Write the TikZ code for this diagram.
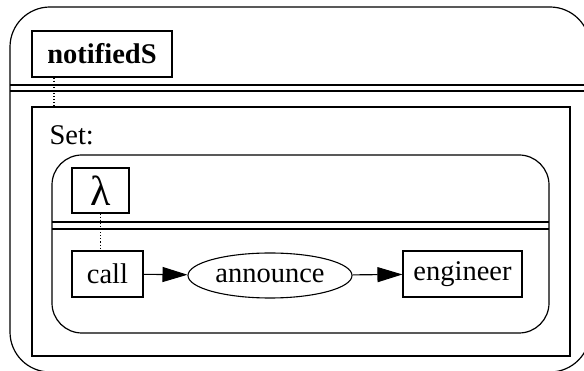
\documentclass[tikz,border=0pt]{standalone}
\usepackage{fontspec}
\setmainfont{Liberation Serif}
\usetikzlibrary{arrows.meta,shapes.geometric}

\tikzset{
  frame/.style={draw, line width=1.2pt},
  entity/.style={draw, line width=1.1pt, rectangle, inner sep=0pt, minimum height=46pt},
  relation/.style={draw, line width=1.1pt, ellipse, inner sep=0pt, minimum width=164pt, minimum height=45pt},
  tether/.style={dotted, line width=1.1pt},
  flow/.style={-{Triangle[length=25pt,width=15pt]}, line width=1.1pt}
}

\begin{document}
\begin{tikzpicture}[x=1pt, y=-1pt, font=\fontsize{28.5}{34}\selectfont]

\useasboundingbox (0,0) rectangle (584,371);
\clip (0,0) rectangle (584,371);

% Outer frame with its title bar
\draw[frame, rounded corners=40pt] (10,7) rectangle (590,372);
\draw[frame] (10,85) -- (590,85);
\draw[frame] (10,91) -- (590,91);
\node[entity, minimum width=140pt, font=\fontsize{28.5}{34}\selectfont\bfseries] (notif) at (102,54) {notifiedS};

% Set frame
\draw[frame] (32,107) rectangle (570,356);
\coordinate (settop) at (54,107);
\draw[tether] (notif.south -| settop) -- (settop);
\node[anchor=base west] (setlab) at (46,145) {Set:};

% Lambda frame
\draw[frame, rounded corners=30pt] (52,155) rectangle (549,333);
\draw[frame] (52,222) -- (549,222);
\draw[frame] (52,229) -- (549,229);
\node[entity, minimum width=57pt, minimum height=45pt, font=\fontsize{42}{46}\selectfont] (lam) at (100.5,190.5) {λ};

% Chain inside the lambda
\node[entity, minimum width=71pt] (call) at (107.5,274) {call};
\node[relation] (announce) at (270,275.5) {announce};
\node[entity, minimum width=119pt] (engineer) at (462.5,274) {engineer};

\draw[tether] (lam.south) -- (lam.south |- call.north);
\draw[flow] (call) -- (announce);
\draw[flow] (announce) -- (engineer);

\end{tikzpicture}
\end{document}
